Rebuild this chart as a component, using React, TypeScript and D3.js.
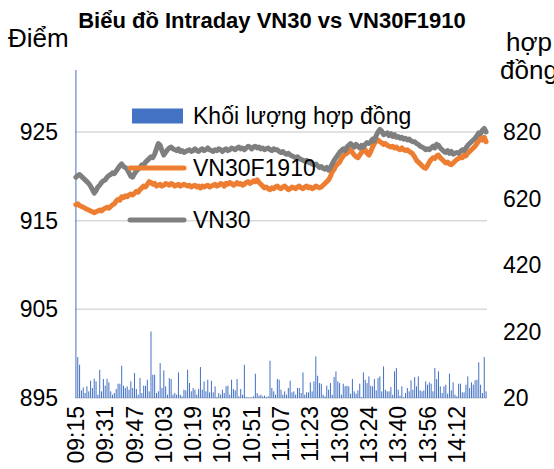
import React, { useEffect, useRef } from "react";
import * as d3 from "d3";

// volume (contracts) per minute
const volume = [
  1100,
  143, 120, 43, 52, 35, 55, 40, 72, 50, 78, 70, 30, 105, 40,
  77, 57, 78, 67, 40, 30, 35, 47, 63, 63, 117, 57, 50, 55, 45,
  70, 50, 95, 47, 30, 80, 35, 57, 57, 75, 40, 220, 90, 90, 35,
  40, 125, 50, 103, 55, 30, 80, 77, 30, 35, 30, 97, 30, 25, 45,
  43, 105, 65, 40, 50, 45, 30, 47, 113, 45, 70, 40, 75, 37,
  72, 37, 55, 23, 35, 30, 45, 35, 55, 57, 30, 75, 47, 43, 77, 25, 47, 30, 120, 23,
  22, 22, 22, 25, 93, 35, 27, 30, 25, 27, 23, 25, 132, 50, 40, 30, 77, 75, 45, 30,
  40, 30, 50, 72, 37, 40, 30, 50, 50, 35, 97, 30, 37, 37, 67, 40, 70, 145, 87, 65,
  63, 30, 25, 57, 45, 65, 30, 83, 100, 70, 65, 30, 63, 55, 57,
  55, 33, 77, 40, 33, 43, 63, 23, 97, 75, 65, 85, 57, 55, 77, 43, 80, 85, 40, 115,
  45, 40, 40, 53, 30, 100, 110, 45, 27, 55, 23, 35, 50, 40, 73, 45, 83, 55, 85, 43,
  40, 43, 70, 60, 67, 63, 40, 110, 77, 100, 55, 35, 55, 60, 33, 93, 43, 67, 30, 25,
  63, 63, 37, 37, 60, 85, 50, 67, 60, 73, 75, 127, 60, 35, 143, 40,
];

const vn30 = [
  919.9, 920.1, 920.2, 920.0, 919.8, 919.6, 919.4, 919.2, 918.9, 918.5, 918.1, 918.4, 918.8, 919.0, 919.3,
  919.5, 919.6, 919.9, 920.1, 920.2, 920.4, 920.3, 920.6, 920.9, 921.2, 921.4, 921.1, 921.0, 920.8, 920.4,
  920.0, 919.9, 920.3, 920.6, 920.8, 921.0, 921.3, 921.2, 921.6, 921.8, 922.0, 922.2, 922.1, 922.5, 923.1,
  923.7, 923.5, 922.9, 922.4, 922.7, 923.0, 923.2, 923.3, 923.1, 923.0, 922.9, 923.1, 922.8, 922.9, 922.7,
  922.8, 922.9, 923.0, 922.8, 922.9, 923.1, 922.9, 922.8, 923.0, 923.1, 922.9, 923.0, 923.2, 923.0, 922.9,
  922.8, 923.0, 922.9, 923.1, 923.0, 922.8, 923.0, 923.1, 922.9, 923.0, 923.2, 923.1, 923.0, 923.2, 923.3,
  923.1, 923.2, 923.0, 923.2, 923.4, 923.3, 923.1, 923.3, 923.4, 923.2, 923.3, 923.1, 923.2, 923.0, 923.1,
  923.2, 923.0, 922.9, 923.1, 923.0, 923.0, 922.8, 922.7, 922.8, 922.6, 922.5, 922.6, 922.4, 922.3, 922.2,
  922.1, 922.2, 922.0, 921.9, 921.8, 921.7, 921.8, 921.6, 921.5, 921.4, 921.3, 921.4, 921.2, 921.0, 921.1,
  920.9, 920.8, 921.0, 920.7, 921.0, 921.4, 921.8, 922.1, 922.4, 922.7, 922.9, 923.1, 922.9, 923.3, 923.5,
  923.7, 923.5, 923.3, 923.6, 923.4, 923.2, 923.5, 923.3, 923.6, 923.8, 923.7, 923.9, 924.2, 924.0, 924.6,
  925.0, 925.3, 925.1, 924.7, 924.8, 924.9, 924.6, 924.8, 924.5, 924.7, 924.4, 924.5, 924.3, 924.4, 924.2,
  924.3, 924.1, 924.2, 924.0, 923.9, 923.9, 923.7, 923.6, 923.4, 923.3, 923.2, 923.0, 923.1, 923.0, 923.2,
  923.4, 923.2, 923.6, 923.5, 923.2, 923.0, 922.8, 922.7, 922.9, 922.6, 922.8, 922.5, 922.6, 922.7, 922.6,
  922.8, 923.0, 922.9, 923.2, 923.5, 923.7, 923.9, 924.1, 924.3, 924.6, 924.9, 924.8, 925.2, 925.4, 925.0,
];

const vn30f = [
  916.8, 916.9, 916.7, 916.6, 916.5, 916.4, 916.3, 916.2, 916.1, 916.0, 915.9, 916.0, 916.1, 916.2, 916.1,
  916.3, 916.4, 916.5, 916.4, 916.6, 916.8, 916.9, 917.2, 917.4, 917.3, 917.7, 917.6, 917.8, 917.7, 917.9,
  918.0, 917.9, 918.1, 918.3, 918.2, 918.5, 918.7, 918.9, 918.8, 919.1, 919.4, 919.3, 919.1, 919.2, 918.9,
  919.0, 919.1, 918.9, 919.0, 919.2, 919.1, 919.0, 919.2, 919.1, 918.9, 919.0, 919.1, 918.9, 919.0, 919.1,
  919.0, 918.9, 919.0, 918.8, 918.9, 919.0, 918.8, 918.9, 918.7, 918.9, 918.8, 918.9, 919.0, 918.8, 918.9,
  919.0, 919.1, 918.9, 919.0, 919.2, 919.1, 918.9, 919.2, 919.1, 919.3, 919.2, 919.0, 919.1, 919.3, 919.1,
  919.2, 919.0, 919.1, 919.3, 919.4, 919.2, 919.3, 919.5, 919.4, 919.6, 919.3, 919.1, 918.9, 918.7, 918.8,
  918.6, 918.5, 918.7, 918.6, 918.8, 918.9, 918.7, 918.6, 918.8, 918.9, 918.7, 918.5, 918.6, 918.8, 918.7,
  918.6, 918.8, 918.9, 918.7, 918.6, 918.8, 918.9, 918.7, 918.8, 918.6, 918.7, 918.9, 918.8, 918.7, 918.8,
  919.0, 919.2, 919.4, 919.6, 920.0, 920.5, 920.8, 921.2, 921.4, 921.6, 922.0, 922.3, 922.5, 922.6, 922.8,
  923.0, 922.7, 922.4, 922.2, 922.1, 922.4, 922.7, 922.9, 923.0, 922.6, 922.4, 922.8, 923.3, 923.7, 924.0,
  924.1, 923.9, 923.8, 923.6, 923.7, 923.5, 923.4, 923.3, 923.4, 923.2, 923.3, 923.1, 923.0, 923.2, 923.0,
  922.9, 923.0, 922.8, 922.7, 922.5, 922.2, 921.8, 921.6, 921.4, 921.2, 921.0, 920.9, 921.2, 921.6, 921.9,
  922.1, 922.0, 922.3, 922.4, 922.1, 921.9, 921.7, 921.5, 921.6, 921.4, 921.3, 921.5, 921.7, 921.9, 922.0,
  922.2, 922.1, 922.4, 922.3, 922.6, 922.8, 923.0, 923.2, 923.4, 923.7, 924.0, 924.3, 924.1, 924.4, 923.9,
];

const xTickLabels = ["09:15", "09:31", "09:47", "10:03", "10:19", "10:35", "10:51", "11:07", "11:23", "13:08", "13:24", "13:40", "13:56", "14:12"];
const leftTicks = [895, 905, 915, 925];
const rightTicks = [20, 220, 420, 620, 820];
const legendLabels = ["Khối lượng hợp đồng", "VN30F1910", "VN30"];

// trading minutes: morning 09:15-11:30, afternoon 13:00-14:28
const minutes = (from, to) => {
  const out = [];
  for (let m = from; m <= to; m++) {
    out.push(`${String(Math.floor(m / 60)).padStart(2, "0")}:${String(m % 60).padStart(2, "0")}`);
  }
  return out;
};
const times = [...minutes(9 * 60 + 15, 11 * 60 + 30), ...minutes(13 * 60, 14 * 60 + 28)];

const FONT = "'Liberation Sans', Arial, sans-serif";

export default function App() {
  const ref = useRef(null);

  const width = 554;
  const height = 469;
  const left = 75, right = 487, top = 70, bottom = 398;

  useEffect(() => {
    const svg = d3.select(ref.current);
    svg.selectAll("*").remove();

    const x = d3.scaleBand().domain(times).range([left, right]).padding(0);
    const yL = d3.scaleLinear().domain([895, 925]).range([bottom, 132]);
    const yR = d3.scaleLinear().domain([20, 820]).range([bottom, 132]);
    const cx = (i) => x(times[i]) + x.bandwidth() / 2;

    svg.append("defs").append("clipPath").attr("id", "plot")
      .append("rect").attr("x", left).attr("y", top).attr("width", right - left).attr("height", bottom - top);

    // gridlines
    svg.append("g").selectAll("line").data(leftTicks).join("line")
      .attr("x1", left).attr("x2", right)
      .attr("y1", d => yL(d)).attr("y2", d => yL(d))
      .attr("stroke", "#d9d9d9").attr("stroke-width", 1.5);

    // volume bars
    const bw = x.bandwidth() * 0.55;
    svg.append("g").attr("clip-path", "url(#plot)")
      .selectAll("rect").data(volume.slice(0, times.length)).join("rect")
      .attr("x", (d, i) => cx(i) - bw / 2)
      .attr("width", bw)
      .attr("y", d => yR(d))
      .attr("height", d => bottom - yR(d))
      .attr("fill", "#4472c4");

    const line = d3.line().x((d, i) => cx(i)).y(d => yL(d));

    svg.append("path").datum(vn30f)
      .attr("d", line).attr("fill", "none")
      .attr("stroke", "#ed7d31").attr("stroke-width", 5)
      .attr("stroke-linejoin", "round").attr("stroke-linecap", "round");

    svg.append("path").datum(vn30)
      .attr("d", line).attr("fill", "none")
      .attr("stroke", "#7f7f7f").attr("stroke-width", 5)
      .attr("stroke-linejoin", "round").attr("stroke-linecap", "round");

    // left axis
    svg.append("g").selectAll("text").data(leftTicks).join("text")
      .attr("x", 58).attr("y", d => yL(d)).attr("dy", "0.35em")
      .attr("text-anchor", "end").attr("font-size", 23).attr("font-family", FONT)
      .text(d => d);

    // right axis
    svg.append("g").selectAll("text").data(rightTicks).join("text")
      .attr("x", 503).attr("y", d => yR(d)).attr("dy", "0.35em")
      .attr("text-anchor", "start").attr("font-size", 23).attr("font-family", FONT)
      .text(d => d);

    // x axis labels (rotated)
    svg.append("g").selectAll("text").data(xTickLabels).join("text")
      .attr("transform", d => `translate(${x(d) + x.bandwidth() / 2},406) rotate(-90)`)
      .attr("dy", "0.35em")
      .attr("text-anchor", "end").attr("font-size", 23).attr("font-family", FONT)
      .text(d => d);

    // titles
    svg.append("text").attr("x", 272).attr("y", 28).attr("text-anchor", "middle")
      .attr("font-size", 22).attr("font-weight", "bold").attr("font-family", FONT)
      .text("Biểu đồ Intraday VN30 vs VN30F1910");
    svg.append("text").attr("x", 8).attr("y", 47)
      .attr("font-size", 26).attr("font-family", FONT).text("Điểm");
    svg.append("text").attr("x", 506).attr("y", 51)
      .attr("font-size", 26).attr("font-family", FONT).text("hợp");
    svg.append("text").attr("x", 500).attr("y", 79)
      .attr("font-size", 26).attr("font-family", FONT).text("đồng");

    // legend
    const lg = svg.append("g");
    const legendY = [116, 168, 220];
    const legendColors = ["#4472c4", "#ed7d31", "#7f7f7f"];
    legendLabels.forEach((label, i) => {
      if (i === 0) {
        lg.append("rect").attr("x", 132).attr("y", legendY[i] - 7.5).attr("width", 51).attr("height", 15)
          .attr("fill", legendColors[i]);
      } else {
        lg.append("line").attr("x1", 130).attr("x2", 184)
          .attr("y1", legendY[i]).attr("y2", legendY[i])
          .attr("stroke", legendColors[i]).attr("stroke-width", 5).attr("stroke-linecap", "round");
      }
      lg.append("text").attr("x", 193).attr("y", legendY[i]).attr("dy", "0.35em")
        .attr("font-size", 23).attr("font-family", FONT).text(label);
    });
  }, []);

  return (
    <svg ref={ref} width={width} height={height}
      style={{ position: "absolute", left: 0, top: 0, background: "#fff" }} />
  );
}
